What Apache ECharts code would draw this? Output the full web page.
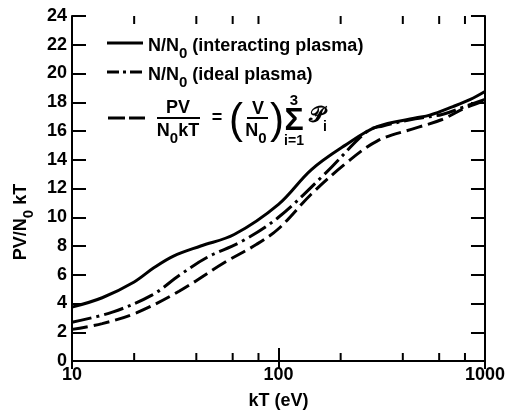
<!DOCTYPE html>
<html>
<head>
<meta charset="utf-8">
<script src="https://cdn.jsdelivr.net/npm/echarts@6/dist/echarts.min.js"></script>
<style>
  html, body { margin: 0; padding: 0; background: #fff; }
  #chart { width: 508px; height: 415px; }
</style>
</head>
<body>
<div id="chart"></div>
<script>
// values (kT in eV, PV/N0kT)
const interactingKT = [10, 14, 20, 25, 31, 42, 61, 100, 144, 210, 300, 460, 540, 700, 850, 1000];
const interactingVal = [3.75, 4.4, 5.5, 6.5, 7.3, 8.0, 8.8, 10.9, 13.3, 15.0, 16.3, 16.9, 17.1, 17.7, 18.2, 18.75];

const idealKT = [10, 15.7, 24.5, 33, 45, 66, 100, 170, 270, 320, 460, 620, 800, 1000];
const idealVal = [2.7, 3.4, 4.6, 5.95, 7.2, 8.3, 10.0, 13.1, 16.0, 16.35, 16.85, 17.15, 17.7, 18.2];

const sumKT = [10, 14, 20.5, 33, 54, 78, 100, 144, 210, 300, 460, 620, 800, 1000];
const sumVal = [2.2, 2.6, 3.35, 4.85, 6.8, 8.1, 9.2, 11.6, 13.7, 15.3, 16.2, 16.8, 17.6, 18.1];

const minorTicks = [20, 40, 60, 80, 200, 400, 600, 800];

const FONT = "'Liberation Sans', Arial, sans-serif";
const INK = "#000";

const zip = (xs, ys) => xs.map((x, i) => [x, ys[i]]);

// subscript via padded rich token
const rich = {
  n: { fontSize: 18, fontWeight: "bold", fontFamily: FONT, lineHeight: 20, color: INK },
  s: { fontSize: 15, fontWeight: "bold", fontFamily: FONT, lineHeight: 15, padding: [16, 0, 0, 0], color: INK },
};

function txt(x, y, text, extra) {
  return {
    type: "text",
    x, y,
    style: Object.assign({
      text,
      rich,
      font: "bold 18px " + FONT,
      fill: INK,
      align: "center",
      verticalAlign: "middle",
    }, extra || {}),
  };
}

function seg(x1, y1, x2, y2, dash) {
  return {
    type: "line",
    shape: { x1, y1, x2, y2 },
    style: { stroke: INK, lineWidth: 3, lineDash: dash || null },
  };
}

const chart = echarts.init(document.getElementById("chart"), null, { renderer: "canvas" });

const axisLine = { lineStyle: { color: INK, width: 2 } };
const labelStyle = { color: INK, fontSize: 18, fontWeight: "bold", fontFamily: FONT };

chart.setOption({
  backgroundColor: "#fff",
  animation: false,
  grid: { left: 72, right: 20, top: 16, bottom: 48 },
  xAxis: [
    {
      type: "log",
      logBase: 10,
      min: 10,
      max: 1000,
      position: "bottom",
      axisLine,
      axisTick: { inside: true, length: 13, lineStyle: { color: INK, width: 2 } },
      axisLabel: Object.assign({ margin: 5, formatter: (v) => String(Math.round(v)) }, labelStyle),
      splitLine: { show: false },
      name: "kT (eV)",
      nameLocation: "middle",
      nameGap: 31,
      nameTextStyle: labelStyle,
    },
    {
      type: "log",
      logBase: 10,
      min: 10,
      max: 1000,
      position: "top",
      axisLine,
      axisTick: { inside: true, length: 8, lineStyle: { color: INK, width: 2 } },
      axisLabel: { show: false },
      splitLine: { show: false },
    },
  ],
  yAxis: [
    {
      type: "value",
      min: 0,
      max: 24,
      interval: 2,
      position: "left",
      axisLine: { show: true, lineStyle: { color: INK, width: 2 } },
      axisTick: { show: true, inside: true, length: 14, lineStyle: { color: INK, width: 2 } },
      axisLabel: Object.assign({ margin: 5 }, labelStyle),
      splitLine: { show: false },
    },
    {
      type: "value",
      min: 0,
      max: 24,
      interval: 2,
      position: "right",
      axisLine: { show: true, lineStyle: { color: INK, width: 2 } },
      axisTick: { show: true, inside: true, length: 14, lineStyle: { color: INK, width: 2 } },
      axisLabel: { show: false },
      splitLine: { show: false },
    },
  ],
  series: [
    {
      name: "interacting",
      type: "line",
      smooth: 0.35,
      symbol: "none",
      data: zip(interactingKT, interactingVal),
      lineStyle: { color: INK, width: 3 },
    },
    {
      name: "ideal",
      type: "line",
      smooth: 0.35,
      symbol: "none",
      data: zip(idealKT, idealVal),
      lineStyle: { color: INK, width: 3, type: [20, 5, 3, 5] },
    },
    {
      name: "sum",
      type: "line",
      smooth: 0.35,
      symbol: "none",
      data: zip(sumKT, sumVal),
      lineStyle: { color: INK, width: 3, type: [16, 6] },
    },
    {
      // 20..80 and 200..800 ticks on bottom and top edges
      type: "custom",
      silent: true,
      clip: false,
      data: minorTicks.map((v) => [v, 0]),
      renderItem: (params, api) => {
        const b = api.coord([api.value(0), 0]);
        const t = api.coord([api.value(0), 24]);
        const st = { stroke: INK, lineWidth: 2 };
        return {
          type: "group",
          children: [
            { type: "line", shape: { x1: b[0], y1: b[1], x2: b[0], y2: b[1] - 8 }, style: st },
            { type: "line", shape: { x1: t[0], y1: t[1], x2: t[0], y2: t[1] + 8 }, style: st },
          ],
        };
      },
    },
  ],
  graphic: [
    // y axis title
    Object.assign(txt(21, 222, "{n|PV/N}{s|0}{n| kT}"), { rotation: Math.PI / 2 }),

    // legend
    seg(107, 43, 143, 43),
    txt(148, 46, "{n|N/N}{s|0}{n| (interacting plasma)}", { align: "left" }),
    seg(107, 72, 143, 72, [12, 4, 3, 4]),
    txt(148, 75, "{n|N/N}{s|0}{n| (ideal plasma)}", { align: "left" }),
    seg(108, 118, 145, 118, [17, 4]),

    // PV / N0kT = (V/N0) sum_{i=1}^{3} P_i
    txt(178, 108, "{n|PV}"),
    { type: "line", shape: { x1: 157, y1: 118, x2: 200, y2: 118 }, style: { stroke: INK, lineWidth: 2 } },
    txt(178, 131, "{n|N}{s|0}{n|kT}"),
    txt(217, 118, "{n|=}"),
    txt(236, 121, "(", { font: "42px " + FONT }),
    txt(258, 109, "{n|V}"),
    { type: "line", shape: { x1: 247, y1: 118, x2: 268, y2: 118 }, style: { stroke: INK, lineWidth: 2 } },
    txt(256, 131, "{n|N}{s|0}"),
    txt(277, 121, ")", { font: "42px " + FONT }),
    txt(294, 101, "3", { font: "bold 15px " + FONT }),
    txt(294, 121, "\u03A3", { font: "bold 32px " + FONT }),
    txt(294, 141, "i=1", { font: "bold 14px " + FONT }),
    txt(317, 116, "\uD835\uDCAB", { font: "bold 22px 'DejaVu Serif', 'DejaVu Sans', serif" }),
    txt(325, 127, "i", { font: "bold 14px " + FONT }),
  ],
});
</script>
</body>
</html>
